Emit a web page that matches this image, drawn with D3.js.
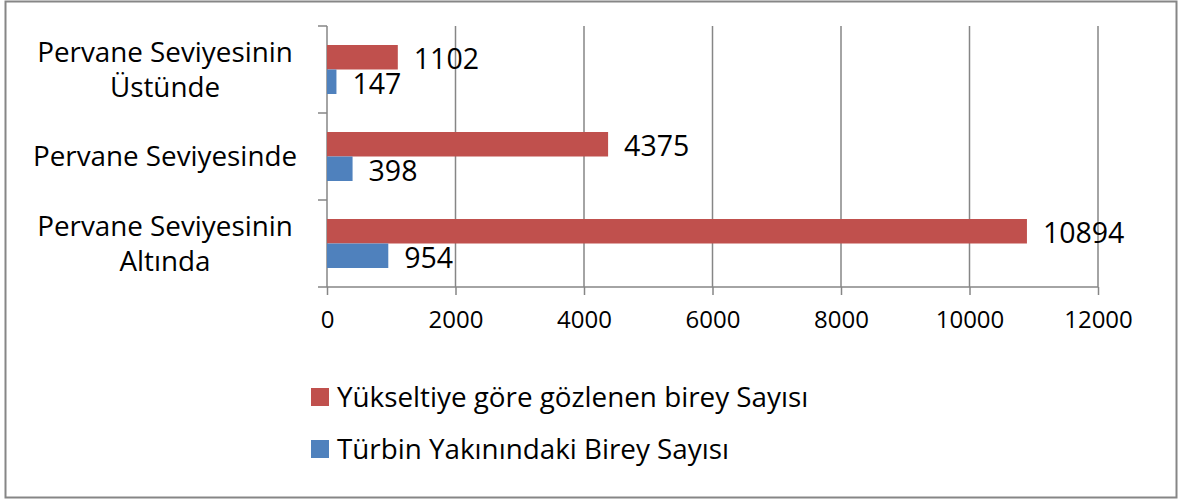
<!DOCTYPE html>
<html>
<head>
<meta charset="utf-8">
<script src="https://cdn.jsdelivr.net/npm/d3@7"></script>
<style>
  body { margin: 0; background: #fff; }
  text { font-family: "Open Sans", sans-serif; fill: #000; }
</style>
</head>
<body>
<svg width="1178" height="499"></svg>
<script>
// data
const categories = ["Pervane Seviyesinin Üstünde", "Pervane Seviyesinde", "Pervane Seviyesinin Altında"];
const categoryLines = [["Pervane Seviyesinin", "Üstünde"], ["Pervane Seviyesinde"], ["Pervane Seviyesinin", "Altında"]];
const seriesNames = ["Yükseltiye göre gözlenen birey Sayısı", "Türbin Yakınındaki Birey Sayısı"];
const seriesColors = ["#c0504d", "#4f81bd"];
const yukseltiValues = [1102, 4375, 10894];
const turbinValues = [147, 398, 954];
const xTicks = [0, 2000, 4000, 6000, 8000, 10000, 12000];

const svg = d3.select("svg");
const margin = {top: 26, left: 327, right: 80, bottom: 212};
const width = 1098 - margin.left;
const height = 287 - margin.top;

// outer frame
svg.append("rect")
    .attr("x", 5.5).attr("y", 1.5)
    .attr("width", 1171).attr("height", 496)
    .attr("fill", "none").attr("stroke", "#868686").attr("stroke-width", 2);

const g = svg.append("g").attr("transform", "translate(" + margin.left + "," + margin.top + ")");

const x = d3.scaleLinear().domain([0, 12000]).range([0, width]);
const y = d3.scaleBand().domain(categories).range([0, height]);
const inner = d3.scaleBand().domain(seriesNames).range([19, y.bandwidth() - 19]);

// vertical gridlines
g.selectAll(".grid").data(xTicks.slice(1)).enter().append("line")
    .attr("x1", d => x(d)).attr("x2", d => x(d))
    .attr("y1", 0).attr("y2", height)
    .attr("stroke", "#868686").attr("stroke-width", 1.5);

// x axis
const xAxis = g.append("g")
    .attr("transform", "translate(0," + height + ")")
    .call(d3.axisBottom(x).tickValues(xTicks).tickSize(8).tickPadding(16).tickFormat(d3.format("d")));
xAxis.select(".domain").attr("stroke", "#868686").attr("stroke-width", 1.5).attr("d", "M0,0H" + width);
xAxis.selectAll(".tick line").attr("stroke", "#868686").attr("stroke-width", 1.5);
xAxis.selectAll(".tick text").style("font-size", "24px").style("font-family", "Open Sans, sans-serif").attr("fill", "#000");

// y axis with boundary ticks
const yAxis = g.append("g");
yAxis.append("line").attr("x1", 0).attr("x2", 0).attr("y1", 0).attr("y2", height)
    .attr("stroke", "#868686").attr("stroke-width", 1.5);
const bounds = categories.map(c => y(c)).concat([height]);
yAxis.selectAll(".ytick").data(bounds).enter().append("line")
    .attr("x1", -9).attr("x2", 0).attr("y1", d => d).attr("y2", d => d)
    .attr("stroke", "#868686").attr("stroke-width", 1.5);

// category labels
const catLabels = g.selectAll(".cat").data(categories).enter().append("text")
    .attr("class", "cat")
    .attr("text-anchor", "middle")
    .style("font-size", "27.8px")
    .attr("transform", d => "translate(" + (-162) + "," + (y(d) + y.bandwidth() / 2) + ")");
catLabels.each(function(d, i) {
  const lines = categoryLines[i];
  const t = d3.select(this);
  lines.forEach((ln, j) => {
    t.append("tspan").attr("x", 0)
      .attr("y", (j - (lines.length - 1) / 2) * 35)
      .attr("dy", "0.35em")
      .text(ln);
  });
});

// bars
const series = [yukseltiValues, turbinValues];
series.forEach((vals, si) => {
  const s = g.append("g");
  s.selectAll("rect").data(vals).enter().append("rect")
      .attr("x", 0)
      .attr("y", (d, i) => y(categories[i]) + inner(seriesNames[si]))
      .attr("width", d => x(d))
      .attr("height", inner.bandwidth())
      .attr("fill", seriesColors[si]);
  s.selectAll("text").data(vals).enter().append("text")
      .attr("x", d => x(d) + 16)
      .attr("y", (d, i) => y(categories[i]) + inner(seriesNames[si]) + inner.bandwidth() / 2 + 2)
      .attr("dy", "0.35em")
      .style("font-size", "28.5px")
      .text(d => d);
});

// legend
const legend = svg.append("g").attr("transform", "translate(311,388)");
seriesNames.forEach((name, i) => {
  const row = legend.append("g").attr("transform", "translate(0," + (i * 52) + ")");
  row.append("rect").attr("width", 18).attr("height", 18).attr("fill", seriesColors[i]);
  row.append("text").attr("x", 26).attr("y", 9).attr("dy", "0.35em")
      .style("font-size", "27.8px").text(name);
});
</script>
</body>
</html>
